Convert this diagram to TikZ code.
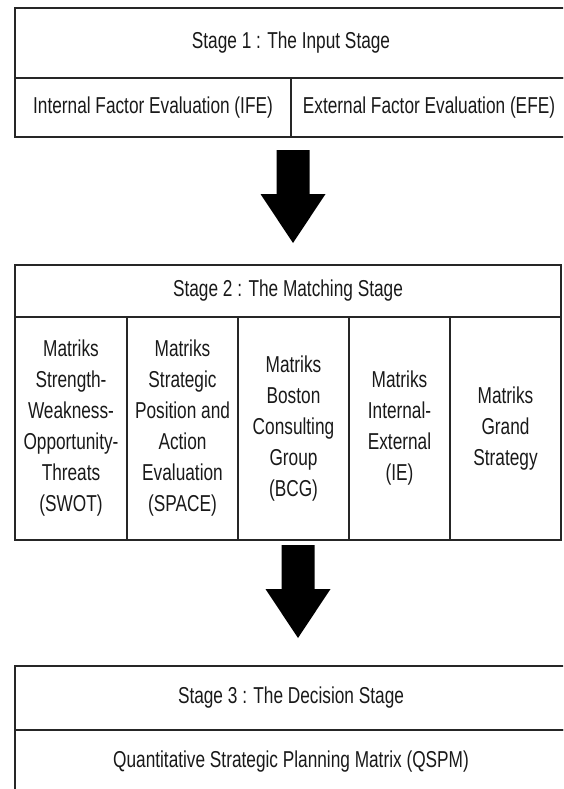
\documentclass[tikz,border=0pt]{standalone}
\usepackage{fontspec}
\setmainfont[FakeStretch=0.75]{Liberation Sans}
\usetikzlibrary{positioning}

\begin{document}
\begin{tikzpicture}[
  x=1pt, y=-1pt,
  node distance=0pt,
  cell/.style={rectangle, draw=black!85, line width=1.6pt, outer sep=0pt, inner sep=0pt,
               align=center, text=black!90, font=\fontsize{23}{31}\selectfont},
  head/.style={cell, minimum width=552pt, minimum height=70pt},
  half/.style={cell, minimum width=276pt, minimum height=59pt},
  mhead/.style={cell, minimum width=546pt, minimum height=52pt},
  matrix cell/.style={cell, minimum height=223pt, minimum width=#1},
  bigarrow/.pic={
    \fill[black] (-16.5,0) -- (16.5,0) -- (16.5,44) -- (32.5,44) -- (0,93)
                 -- (-32.5,44) -- (-16.5,44) -- cycle;
  },
]
\useasboundingbox (0,0) rectangle (563,789);
\clip (0,0) rectangle (563,789);

% Stage 1
\node[head] (s1) at (291,43) {Stage 1 : The Input Stage};
\node[half, below right=0pt and 0pt of s1.south west] (ife) {Internal Factor Evaluation (IFE)};
\node[half, right=of ife] (efe) {External Factor Evaluation (EFE)};

% Arrow 1 -> 2
\path (ife.south east) ++(2,13) pic {bigarrow};

% Stage 2
\node[mhead] (s2) at (288,291) {Stage 2 : The Matching Stage};
\node[matrix cell=112pt, below right=0pt and 0pt of s2.south west] (swot)
  {Matriks\\Strength-\\Weakness-\\Opportunity-\\Threats\\(SWOT)};
\node[matrix cell=111pt, right=of swot] (space)
  {Matriks\\Strategic\\Position and\\Action\\Evaluation\\(SPACE)};
\node[matrix cell=111pt, right=of space] (bcg)
  {Matriks\\Boston\\Consulting\\Group\\(BCG)};
\node[matrix cell=101pt, right=of bcg] (ie)
  {Matriks\\Internal-\\External\\(IE)};
\node[matrix cell=111pt, right=of ie] (grand)
  {Matriks\\Grand\\Strategy};

% Arrow 2 -> 3
\path (bcg.south) ++(4.5,5) pic {bigarrow};

% Stage 3
\node[cell, minimum width=552pt, minimum height=64pt] (s3) at (291,698) {Stage 3 : The Decision Stage};
\node[cell, minimum width=552pt, minimum height=64pt, below=of s3] (qspm)
  {Quantitative Strategic Planning Matrix (QSPM)};

\end{tikzpicture}
\end{document}
